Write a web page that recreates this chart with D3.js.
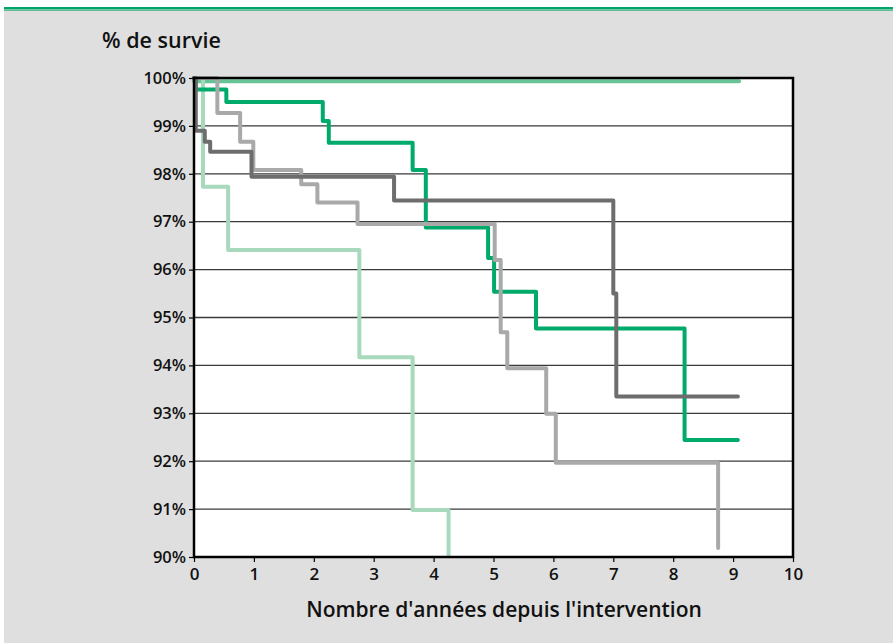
<!DOCTYPE html>
<html>
<head>
<meta charset="utf-8">
<script src="https://cdn.jsdelivr.net/npm/d3@7"></script>
<style>
  html, body { margin: 0; padding: 0; background: #ffffff; }
  svg { display: block; }
  text { font-family: "Open Sans", "Noto Sans", sans-serif; fill: #111; }
</style>
</head>
<body>
<svg id="chart" width="893" height="643"></svg>
<script>
// Survival curves (years since surgery, % survival), step-after values
const yearTicks = [0, 1, 2, 3, 4, 5, 6, 7, 8, 9, 10];
const percentTicks = [90, 91, 92, 93, 94, 95, 96, 97, 98, 99, 100];

const seriesTop = [[0, 99.93], [9.1, 99.93]];
const seriesPale = [[0, 100], [0.15, 97.73], [0.57, 96.41], [2.76, 94.17], [3.65, 90.98], [4.25, 90.04]];
const seriesGreen = [[0, 100], [0.03, 99.76], [0.54, 99.5], [2.15, 99.1], [2.25, 98.65], [3.65, 98.08], [3.87, 96.88], [4.91, 96.24], [5.01, 95.54], [5.71, 94.77], [8.19, 92.44], [9.08, 92.44]];
const seriesLightGrey = [[0, 100], [0.39, 99.27], [0.77, 98.67], [0.99, 98.08], [1.79, 97.78], [2.06, 97.4], [2.73, 96.95], [5.02, 96.2], [5.12, 94.69], [5.23, 93.94], [5.88, 92.99], [6.04, 91.97], [8.75, 90.19]];
const seriesDarkGrey = [[0, 100], [0.03, 98.9], [0.18, 98.67], [0.27, 98.46], [0.96, 97.94], [3.34, 97.44], [7.0, 95.5], [7.05, 93.35], [9.08, 93.35]];

const svg = d3.select("#chart");

// page frame: grey panel with a green rule on top
svg.append("rect").attr("x", 4).attr("y", 10).attr("width", 889).attr("height", 633).attr("fill", "#dfdfdf");
svg.append("rect").attr("x", 4).attr("y", 7).attr("width", 889).attr("height", 2.4).attr("fill", "#00a46a");
svg.append("rect").attr("x", 4).attr("y", 9.4).attr("width", 889).attr("height", 1.6).attr("fill", "#5cbf93");

const x = d3.scaleLinear().domain([0, 10]).range([194, 793]);
const y = d3.scaleLinear().domain([90, 100]).range([557, 78]);

// plot background
svg.append("rect")
  .attr("x", x(0)).attr("y", y(100))
  .attr("width", x(10) - x(0)).attr("height", y(90) - y(100))
  .attr("fill", "#ffffff");

// horizontal gridlines
svg.append("g").selectAll("line")
  .data(percentTicks.filter(d => d > 90 && d < 100))
  .join("line")
  .attr("x1", x(0)).attr("x2", x(10))
  .attr("y1", d => y(d)).attr("y2", d => y(d))
  .attr("stroke", "#3a3a3a").attr("stroke-width", 1.3);

// curves
const line = d3.line()
  .x(d => x(d[0]))
  .y(d => y(d[1]))
  .curve(d3.curveStepAfter);

const curves = [
  { data: seriesTop, color: "#69c398" },
  { data: seriesPale, color: "#a8d9bc" },
  { data: seriesGreen, color: "#00aa6b" },
  { data: seriesLightGrey, color: "#a9a9a9" },
  { data: seriesDarkGrey, color: "#6d6d6d" }
];

svg.append("g").selectAll("path")
  .data(curves)
  .join("path")
  .attr("d", d => line(d.data))
  .attr("fill", "none")
  .attr("stroke", d => d.color)
  .attr("stroke-width", 4)
  .attr("stroke-linejoin", "round")
  .attr("stroke-linecap", "round");

// plot border
svg.append("rect")
  .attr("x", x(0)).attr("y", y(100))
  .attr("width", x(10) - x(0)).attr("height", y(90) - y(100))
  .attr("fill", "none").attr("stroke", "#000").attr("stroke-width", 2.5);

// axes
const xAxis = d3.axisBottom(x).tickValues(yearTicks).tickSize(5).tickPadding(6).tickFormat(d3.format("d"));
const gx = svg.append("g").attr("transform", `translate(0,${y(90)})`).call(xAxis);
gx.select(".domain").remove();
gx.selectAll(".tick line").attr("stroke", "#000").attr("stroke-width", 1.2);
gx.selectAll(".tick text")
  .style("font-family", "'Open Sans', sans-serif")
  .style("font-size", "17px").style("font-weight", "600").attr("fill", "#111");

const yAxis = d3.axisLeft(y).tickValues(percentTicks).tickSize(5).tickPadding(3).tickFormat(d => d + "%");
const gy = svg.append("g").attr("transform", `translate(${x(0)},0)`).call(yAxis);
gy.select(".domain").remove();
gy.selectAll(".tick line").attr("stroke", "#000").attr("stroke-width", 1.2);
gy.selectAll(".tick text")
  .style("font-family", "'Open Sans', sans-serif")
  .style("font-size", "16.5px").style("font-weight", "600").attr("fill", "#111");

// titles
svg.append("text")
  .attr("x", 102).attr("y", 48)
  .style("font-size", "21.5px").style("font-weight", "600")
  .text("% de survie");

svg.append("text")
  .attr("x", 504).attr("y", 617)
  .attr("text-anchor", "middle")
  .style("font-size", "21px").style("font-weight", "600")
  .text("Nombre d'années depuis l'intervention");
</script>
</body>
</html>
